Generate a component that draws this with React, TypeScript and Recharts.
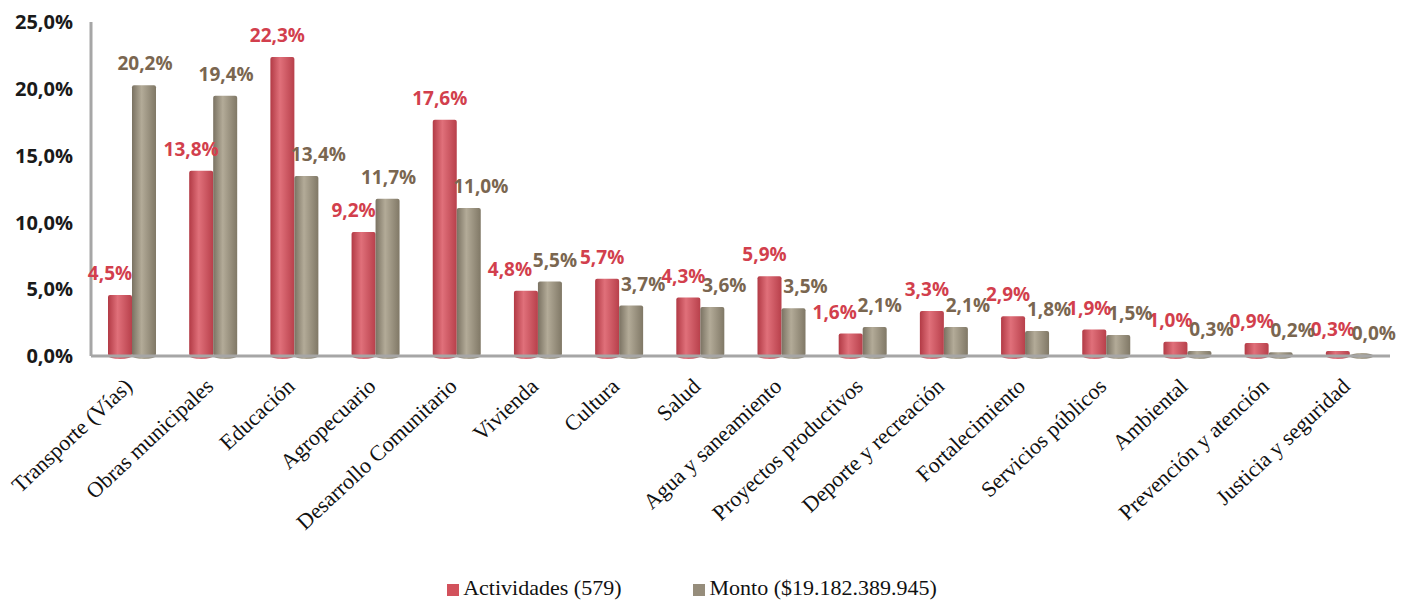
import { BarChart, Bar, XAxis, YAxis, Legend, LabelList } from "recharts";

// Categories and the two series.
const categories = [
  "Transporte (Vías)",
  "Obras municipales",
  "Educación",
  "Agropecuario",
  "Desarrollo Comunitario",
  "Vivienda",
  "Cultura",
  "Salud",
  "Agua y saneamiento",
  "Proyectos productivos",
  "Deporte y recreación",
  "Fortalecimiento",
  "Servicios públicos",
  "Ambiental",
  "Prevención y atención",
  "Justicia y seguridad",
];
const actividades = [4.5, 13.8, 22.3, 9.2, 17.6, 4.8, 5.7, 4.3, 5.9, 1.6, 3.3, 2.9, 1.9, 1.0, 0.9, 0.3];
const monto = [20.2, 19.4, 13.4, 11.7, 11.0, 5.5, 3.7, 3.6, 3.5, 2.1, 2.1, 1.8, 1.5, 0.3, 0.2, 0.0];
const yTicks = [0, 5, 10, 15, 20, 25];

const RED = "#d2525c";
const GRAY = "#968d7b";

const data = categories.map((name, i) => ({ name, actividades: actividades[i], monto: monto[i] }));

const pct = (v: number) => v.toFixed(1).replace(".", ",") + "%";

// Shaded bar, like the spreadsheet's cylinder look
function Cylinder(props: any) {
  const { x, y, width, height, gradId } = props;
  const ry = width * 0.12;
  const h = Math.max(height, 0);
  return (
    <g>
      <ellipse cx={x + width / 2} cy={y + h} rx={width / 2} ry={ry} fill={`url(#${gradId})`} />
      <rect x={x} y={y - 1} width={width} height={h + 1} rx={2} fill={`url(#${gradId})`} />
    </g>
  );
}

// Value label; nudged sideways so the two labels of a group don't sit on each other
function ValueLabel(props: any) {
  const { x, y, width, value, index, side, color } = props;
  const a = actividades[index];
  const m = monto[index];
  const redTaller = a > m;
  const close = !redTaller && m - a < 1;
  let dx;
  if (side === "left") dx = redTaller ? -5 : close ? -16 : -10;
  else dx = redTaller ? 12 : close ? 5 : 1;
  return (
    <text
      x={x + width / 2 + dx}
      y={y - 16}
      textAnchor="middle"
      fontFamily="Open Sans, sans-serif"
      fontWeight={700}
      fontSize={19}
      fill={color}
    >
      {pct(value)}
    </text>
  );
}

function XTick(props: any) {
  const { x, y, payload } = props;
  return (
    <text
      x={x + 2}
      y={y + 24}
      textAnchor="end"
      transform={`rotate(-43, ${x + 2}, ${y + 24})`}
      fontFamily="Liberation Serif, serif"
      fontSize={22}
      fill="#111"
    >
      {payload.value}
    </text>
  );
}

export default function App() {
  return (
    <div style={{ position: "absolute", left: 0, top: 0, background: "#fff" }}>
      <BarChart
        width={1415}
        height={602}
        data={data}
        margin={{ top: 22, right: 25, left: 4, bottom: 0 }}
        barGap={0}
        barSize={24}
      >
        <defs>
          <linearGradient id="gRed" x1="0" y1="0" x2="1" y2="0">
            <stop offset="0%" stopColor="#b23a45" />
            <stop offset="40%" stopColor="#e0707a" />
            <stop offset="100%" stopColor="#b8404b" />
          </linearGradient>
          <linearGradient id="gGray" x1="0" y1="0" x2="1" y2="0">
            <stop offset="0%" stopColor="#7a7262" />
            <stop offset="40%" stopColor="#b3ab98" />
            <stop offset="100%" stopColor="#807866" />
          </linearGradient>
        </defs>
        <XAxis
          dataKey="name"
          interval={0}
          tick={<XTick />}
          tickLine={false}
          axisLine={{ stroke: "#a6a6a6", strokeWidth: 3 }}
          height={206}
        />
        <YAxis
          domain={[0, 25]}
          ticks={yTicks}
          tickFormatter={pct}
          tickLine={false}
          axisLine={{ stroke: "#a6a6a6", strokeWidth: 3 }}
          tickMargin={12}
          width={87}
          tick={{ fontFamily: "Open Sans, sans-serif", fontWeight: 700, fontSize: 20, fill: "#1a1a1a" }}
        />
        <Legend
          verticalAlign="bottom"
          height={40}
          iconType="square"
          iconSize={12}
          wrapperStyle={{ top: 575, fontFamily: "Liberation Serif, serif", fontSize: 22, color: "#111" }}
          formatter={(v: string, _e: any, i: number) => (
            <span style={{ color: "#111", marginRight: i === 0 ? 62 : 0 }}>{v}</span>
          )}
        />
        <Bar
          dataKey="actividades"
          name="Actividades (579)"
          fill={RED}
          isAnimationActive={false}
          shape={<Cylinder gradId="gRed" />}
        >
          <LabelList dataKey="actividades" content={<ValueLabel side="left" color="#d23f4d" />} />
        </Bar>
        <Bar
          dataKey="monto"
          name="Monto ($19.182.389.945)"
          fill={GRAY}
          isAnimationActive={false}
          shape={<Cylinder gradId="gGray" />}
        >
          <LabelList dataKey="monto" content={<ValueLabel side="right" color="#7a6650" />} />
        </Bar>
      </BarChart>
    </div>
  );
}
